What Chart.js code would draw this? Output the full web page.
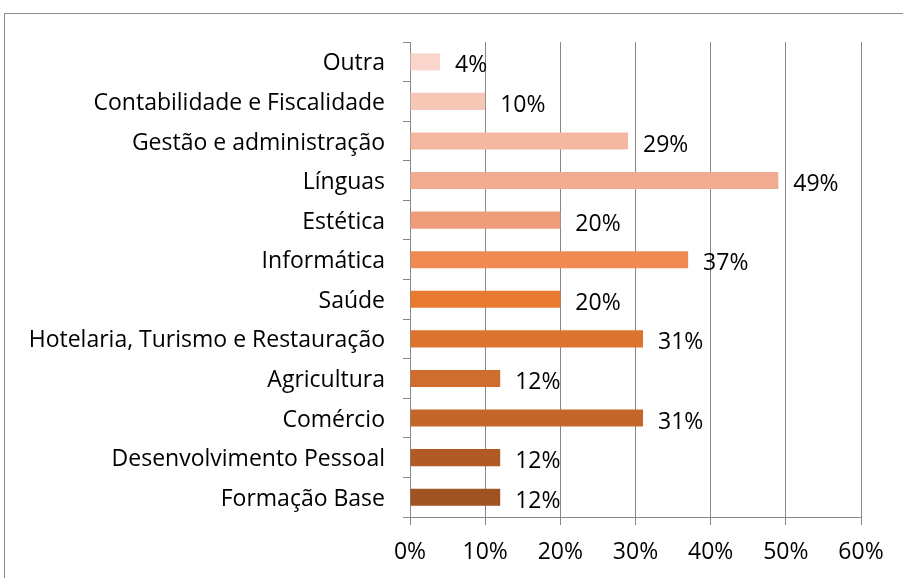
<!DOCTYPE html>
<html>
<head>
<meta charset="utf-8">
<script src="https://cdn.jsdelivr.net/npm/chart.js@4"></script>
<style>
  html, body { margin: 0; padding: 0; background: #fff; }
  #wrap { position: relative; width: 903px; height: 578px; overflow: hidden; }
  #frame { position: absolute; left: 4px; top: 13px; width: 920px; height: 600px; border: 1px solid #8c8c8c; }
  canvas { position: absolute; left: 0; top: 0; }
</style>
</head>
<body>
<div id="wrap">
  <div id="frame"></div>
  <canvas id="chart" width="903" height="578"></canvas>
</div>
<script>
// categorias (de cima para baixo)
const categories = [
  "Outra", "Contabilidade e Fiscalidade", "Gestão e administração", "Línguas",
  "Estética", "Informática", "Saúde", "Hotelaria, Turismo e Restauração",
  "Agricultura", "Comércio", "Desenvolvimento Pessoal", "Formação Base"
];
const values = [4, 10, 29, 49, 20, 37, 20, 31, 12, 31, 12, 12];
const barColors = [
  "#f9d5cb", "#f7c7b6", "#f4b8a2", "#f1ab91", "#ef9c7a", "#ee8a52",
  "#e87a30", "#db742f", "#cf6d2e", "#c3662a", "#b05a26", "#9f5222"
];
const xTicks = [0, 10, 20, 30, 40, 50, 60];

const FONT = "'Open Sans', sans-serif";
const FSIZE = 23;

// rótulos de valor à direita das barras
const valueLabels = {
  id: 'valueLabels',
  afterDatasetsDraw(chart) {
    const ctx = chart.ctx;
    const meta = chart.getDatasetMeta(0);
    ctx.save();
    ctx.font = FSIZE + "px " + FONT;
    ctx.fillStyle = "#000";
    ctx.textAlign = "left";
    ctx.textBaseline = "middle";
    meta.data.forEach((bar, i) => {
      ctx.fillText(values[i] + "%", bar.x + 15, bar.y + 4);
    });
    ctx.restore();
  }
};

new Chart(document.getElementById('chart'), {
  type: 'bar',
  data: {
    labels: categories,
    datasets: [{
      data: values,
      backgroundColor: barColors,
      borderWidth: 0,
      barPercentage: 1,
      categoryPercentage: 0.43
    }]
  },
  options: {
    indexAxis: 'y',
    responsive: false,
    animation: false,
    plugins: { legend: { display: false }, tooltip: { enabled: false } },
    layout: { padding: { left: 0, right: 42, top: 42, bottom: 0 } },
    scales: {
      x: {
        min: 0,
        max: 60,
        afterBuildTicks(scale) { scale.ticks = xTicks.map(v => ({ value: v })); },
        afterFit(scale) { scale.height = 61; },
        grid: { color: "#868686", lineWidth: 1, tickLength: 8, drawTicks: true },
        border: { color: "#868686" },
        ticks: {
          callback: v => v + "%",
          color: "#000",
          font: { family: FONT, size: FSIZE },
          padding: 14,
          maxRotation: 0
        }
      },
      y: {
        afterFit(scale) { scale.width = 410; },
        grid: { offset: true, drawOnChartArea: false, color: "#868686", tickLength: 7 },
        border: { color: "#868686" },
        ticks: {
          color: "#000",
          font: { family: FONT, size: FSIZE },
          padding: 18,
          labelOffset: 2
        }
      }
    }
  },
  plugins: [valueLabels]
});
</script>
</body>
</html>
